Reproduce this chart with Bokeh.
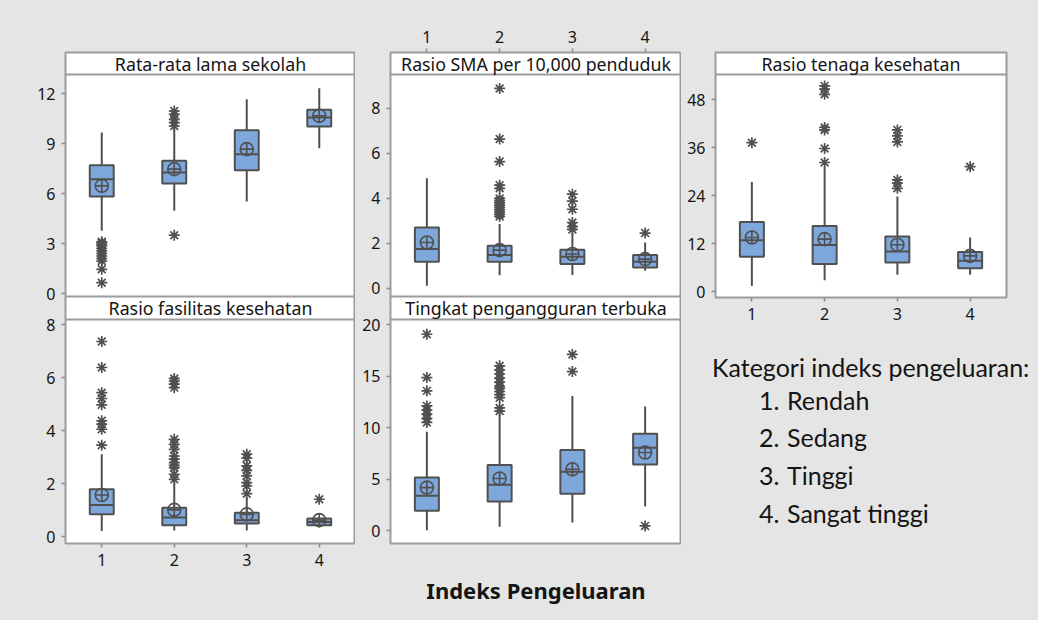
import numpy as np
from bokeh.plotting import figure
from bokeh.models import Range1d, FixedTicker, LinearAxis, Label, Span, Div
from bokeh.layouts import column, row
from bokeh.embed import file_html
from bokeh.resources import INLINE

# ---------------- data ----------------
categories = [1, 2, 3, 4]
tick_labels = ["1", "2", "3", "4"]
x_title = "Indeks Pengeluaran"
legend_title = "Kategori indeks pengeluaran:"
legend_numbers = ["1.", "2.", "3.", "4."]
legend_names = ["Rendah", "Sedang", "Tinggi", "Sangat tinggi"]

# Rata-rata lama sekolah
rls_title = "Rata-rata lama sekolah"
rls_q1 = [5.82, 6.60, 7.40, 10.02]
rls_med = [6.86, 7.26, 8.36, 10.56]
rls_q3 = [7.70, 7.96, 9.80, 11.02]
rls_lo = [3.76, 4.96, 5.52, 8.72]
rls_hi = [9.66, 9.90, 11.66, 12.32]
rls_mean = [6.46, 7.46, 8.66, 10.66]
rls_out = [[3.10, 3.05, 2.95, 2.85, 2.70, 2.55, 2.40, 2.25, 2.10, 1.95, 1.45, 0.65],
           [10.95, 10.75, 10.45, 10.25, 10.05, 3.50], [], []]
rls_ticks = [0, 3, 6, 9, 12]
rls_lim = (-0.18, 13.14)

# Rasio SMA per 10,000 penduduk
sma_title = "Rasio SMA per 10,000 penduduk"
sma_q1 = [1.19, 1.19, 1.08, 0.93]
sma_med = [1.75, 1.48, 1.41, 1.19]
sma_q3 = [2.71, 1.90, 1.72, 1.48]
sma_lo = [0.12, 0.59, 0.60, 0.79]
sma_hi = [4.90, 2.86, 2.45, 2.04]
sma_mean = [2.04, 1.70, 1.53, 1.30]
sma_out = [[], [8.89, 6.64, 5.64, 4.59, 4.45, 4.00, 3.90, 3.80, 3.70, 3.60, 3.50, 3.40, 3.30, 3.20],
           [4.19, 3.88, 3.52, 2.93, 2.75, 2.62], [2.46]]
sma_ticks = [0, 2, 4, 6, 8]
sma_lim = (-0.36, 9.51)

# Rasio tenaga kesehatan
rtk_title = "Rasio tenaga kesehatan"
rtk_q1 = [8.66, 6.90, 7.25, 5.83]
rtk_med = [12.8, 11.6, 10.0, 7.7]
rtk_q3 = [17.4, 16.4, 13.75, 9.9]
rtk_lo = [1.4, 2.8, 4.17, 4.17]
rtk_hi = [27.4, 31.0, 23.75, 13.5]
rtk_mean = [13.5, 13.1, 11.7, 8.9]
rtk_out = [[37.2], [51.4, 50.6, 49.3, 41.0, 40.4, 35.75, 32.25],
           [40.4, 38.9, 37.4, 27.9, 27.1, 25.8], [31.2]]
rtk_ticks = [0, 12, 24, 36, 48]
rtk_lim = (-1.5, 54.25)

# Rasio fasilitas kesehatan
rfk_title = "Rasio fasilitas kesehatan"
rfk_q1 = [0.84, 0.43, 0.49, 0.43]
rfk_med = [1.19, 0.72, 0.62, 0.55]
rfk_q3 = [1.79, 1.09, 0.90, 0.68]
rfk_lo = [0.21, 0.23, 0.23, 0.34]
rfk_hi = [3.11, 2.10, 1.47, 0.72]
rfk_mean = [1.57, 1.01, 0.84, 0.62]
rfk_out = [[7.36, 6.38, 5.43, 5.21, 4.97, 4.37, 4.24, 4.05, 3.45],
           [5.96, 5.87, 5.75, 5.62, 3.67, 3.48, 3.29, 3.04, 2.92, 2.79, 2.69, 2.60, 2.35, 2.16],
           [3.11, 2.96, 2.67, 2.50, 2.29, 2.04, 1.91, 1.62], [1.41]]
rfk_ticks = [0, 2, 4, 6, 8]
rfk_lim = (-0.26, 8.19)

# Tingkat pengangguran terbuka
tpt_title = "Tingkat pengangguran terbuka"
tpt_q1 = [1.91, 2.82, 3.56, 6.41]
tpt_med = [3.37, 4.44, 5.70, 8.03]
tpt_q3 = [5.15, 6.37, 7.83, 9.39]
tpt_lo = [0.03, 0.36, 0.78, 2.33]
tpt_hi = [9.58, 11.30, 13.07, 12.04]
tpt_mean = [4.17, 5.05, 5.95, 7.57]
tpt_out = [[19.06, 14.85, 13.56, 12.10, 11.70, 11.30, 10.86, 10.50],
           [15.99, 15.60, 15.20, 14.80, 14.40, 14.00, 13.80, 13.50, 13.20, 12.90, 11.90, 11.60],
           [17.10, 15.43], [0.45]]
tpt_ticks = [0, 5, 10, 15, 20]
tpt_lim = (-1.26, 20.49)

# ---------------- style ----------------
BG = "#e5e5e5"
BORDER = "#9c9c9c"
BOX_FILL = "#7ea8db"
LINE = "#505050"
TICK = "#8c8c8c"
FONT = "Noto Sans"
TXT = "#141414"


def style_axis(ax, ticks, labels=None):
    ax.ticker = FixedTicker(ticks=ticks)
    if labels is not None:
        ax.major_label_overrides = {t: l for t, l in zip(ticks, labels)}
    ax.axis_line_color = None
    ax.major_tick_line_color = TICK
    ax.major_tick_line_width = 1.5
    ax.major_tick_out = 4
    ax.major_tick_in = 0
    ax.minor_tick_line_color = None
    ax.major_label_text_font = FONT
    ax.major_label_text_font_size = "16px"
    ax.major_label_text_color = TXT
    ax.major_label_standoff = 6
    return ax


def panel(w, h, xr, lim, plot_px, head_px, title, ticks, q1, med, q3, lo, hi, mean, out,
          left=0, right=0, top=0, bottom=0, below_axis=False, above_axis=False):
    ymin, ymax = lim
    per_px = (ymax - ymin) / plot_px
    yr = Range1d(ymin, ymax + head_px * per_px)
    p = figure(width=w, height=h, x_range=xr, y_range=yr, x_axis_type=None, y_axis_type=None,
               toolbar_location=None, output_backend="svg", min_border=0)
    p.min_border_left = left
    p.min_border_right = right
    p.min_border_top = top
    p.min_border_bottom = bottom
    p.background_fill_color = "white"
    p.border_fill_color = None
    p.outline_line_color = BORDER
    p.outline_line_width = 2

    p.add_layout(style_axis(LinearAxis(), ticks), "left")
    if below_axis:
        p.add_layout(style_axis(LinearAxis(), categories, tick_labels), "below")
    if above_axis:
        p.add_layout(style_axis(LinearAxis(), categories, tick_labels), "above")

    # header strip
    p.add_layout(Span(location=ymax, dimension="width", line_color=BORDER, line_width=2))
    p.add_layout(Label(x=2.5, y=ymax + head_px * per_px / 2, text=title, text_align="center",
                       text_baseline="middle", text_font=FONT, text_font_size="17.8px",
                       text_color=TXT))

    x = np.array(categories, dtype=float)
    bw = 0.33
    p.segment(x, q3, x, hi, line_color=LINE, line_width=2)
    p.segment(x, q1, x, lo, line_color=LINE, line_width=2)
    p.vbar(x=x, width=bw, bottom=q1, top=q3, fill_color=BOX_FILL, line_color=LINE, line_width=2)
    p.segment(x - bw / 2, med, x + bw / 2, med, line_color=LINE, line_width=2)
    p.scatter(x, mean, marker="circle_cross", size=13, fill_color=None, line_color=LINE,
              line_width=1.6)
    ox = [c for c, o in zip(categories, out) for _ in o]
    oy = [v for o in out for v in o]
    if ox:
        p.scatter(ox, oy, marker="asterisk", size=11, line_color=LINE, line_width=1.7)
    return p


xr1 = Range1d(0.5, 4.5)
xr2 = Range1d(0.5, 4.5)
xr3 = Range1d(0.5, 4.5)

# column 1
p1 = panel(355, 306, xr1, rls_lim, 222, 22, rls_title, rls_ticks, rls_q1, rls_med, rls_q3,
           rls_lo, rls_hi, rls_mean, rls_out, left=65, top=52, bottom=10)
p4 = panel(355, 324, xr1, rfk_lim, 224, 23, rfk_title, rfk_ticks, rfk_q1, rfk_med, rfk_q3,
           rfk_lo, rfk_hi, rfk_mean, rfk_out, left=65, bottom=77, below_axis=True)
p4.margin = (-10, 0, 0, 0)

# column 2
p2 = panel(326, 306, xr2, sma_lim, 222, 22, sma_title, sma_ticks, sma_q1, sma_med, sma_q3,
           sma_lo, sma_hi, sma_mean, sma_out, left=35, top=52, bottom=10, above_axis=True)
p5 = panel(326, 324, xr2, tpt_lim, 224, 23, tpt_title, tpt_ticks, tpt_q1, tpt_med, tpt_q3,
           tpt_lo, tpt_hi, tpt_mean, tpt_out, left=35, bottom=77)
p5.margin = (-10, 0, 0, 0)
xa = LinearAxis(ticker=FixedTicker(ticks=[]), axis_label=x_title)
xa.axis_line_color = None
xa.major_tick_line_color = None
xa.minor_tick_line_color = None
xa.axis_label_text_font = FONT
xa.axis_label_text_font_style = "bold"
xa.axis_label_text_font_size = "22px"
xa.axis_label_text_color = TXT
xa.axis_label_standoff = 31
p5.add_layout(xa, "below")

# column 3
p3 = panel(357, 327, xr3, rtk_lim, 223, 22, rtk_title, rtk_ticks, rtk_q1, rtk_med, rtk_q3,
           rtk_lo, rtk_hi, rtk_mean, rtk_out, left=34, right=32, top=52, bottom=30,
           below_axis=True)

LEG_FONT = 25
ASC = 0.987 * LEG_FONT
leg_items = ['<div style="position:absolute;left:31px;top:%.1fpx;">%s</div>' % (50 - ASC, legend_title)]
for yb, num, name in zip([83, 120, 158, 196], legend_numbers, legend_names):
    leg_items.append('<div style="position:absolute;left:78px;top:%.1fpx;">%s</div>' % (yb - ASC, num))
    leg_items.append('<div style="position:absolute;left:106px;top:%.1fpx;">%s</div>' % (yb - ASC, name))
leg_html = ('<div style="position:relative;width:357px;height:293px;font-family:Lato;'
            'font-size:%dpx;line-height:%.1fpx;color:%s;white-space:nowrap;">%s</div>'
            % (LEG_FONT, 1.2 * LEG_FONT, TXT, "".join(leg_items)))
leg = Div(text=leg_html, width=357, height=293, margin=(0, 0, 0, 0))

layout = row(column(p1, p4, spacing=0), column(p2, p5, spacing=0),
             column(p3, leg, spacing=0), spacing=0,
             styles={"background-color": BG})

open("out.html", "w").write(file_html(layout, INLINE))
